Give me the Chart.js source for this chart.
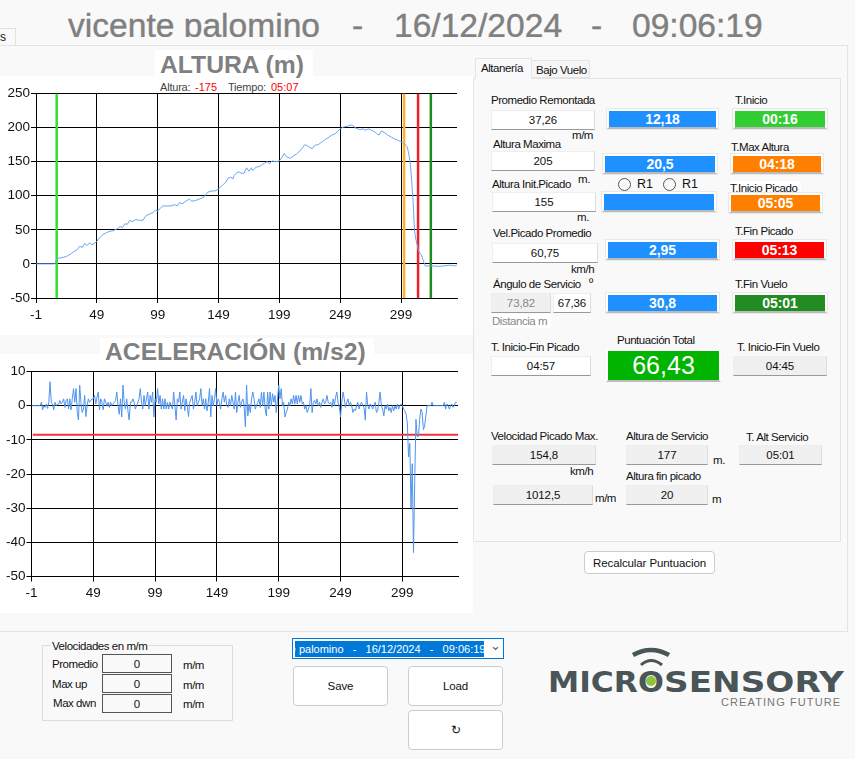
<!DOCTYPE html>
<html>
<head>
<meta charset="utf-8">
<script src="https://cdn.jsdelivr.net/npm/chart.js@4"></script>
<style>
html, body { margin: 0; padding: 0; width: 855px; height: 759px; overflow: hidden; background: #f9f9f9; }
body { font-family: "Liberation Sans", Arial, sans-serif; font-size: 12px; color: #111; position: relative; }
.a { position: absolute; box-sizing: border-box; }
.t { position: absolute; white-space: nowrap; transform: translateY(-50%); line-height: 14px; }
.b { position: absolute; box-sizing: border-box; display: flex; align-items: center; justify-content: center; font-size: 11.5px; letter-spacing: -0.1px; }
.head { font-size: 33.6px; line-height: 36px; color: #808080; -webkit-text-stroke: .4px #808080; top: 25.5px; }
.logo { font-family: "DejaVu Sans"; font-weight: bold; font-size: 29px; line-height: 30px; color: #4a5558; top: 681.5px; transform-origin: 0 50%; }
canvas { position: absolute; }
</style>
</head>
<body>
<!-- app frame -->
<div class="a" style="left:0;top:0;width:855px;height:37px;overflow:hidden">
  <div class="t head" style="left:68px">vicente palomino</div>
  <div class="t head" style="left:352px">-</div>
  <div class="t head" style="left:394px">16/12/2024</div>
  <div class="t head" style="left:591px">-</div>
  <div class="t head" style="left:632px">09:06:19</div>
</div>
<div class="a" style="left:-1px;top:28px;width:17px;height:18px;border:1px solid #e2e2e2;background:#f9f9f9"></div>
<div class="t" style="left:0;top:37px">s</div>
<div class="a" style="left:-1px;top:45px;width:849px;height:587px;border:1px solid #e4e4e4"></div>

<!-- chart backgrounds -->
<div class="a" style="left:155px;top:50px;width:158px;height:26px;background:#fff"></div>
<div class="a" style="left:0;top:76px;width:473px;height:259px;background:#fff"></div>
<div class="a" style="left:100px;top:338px;width:274px;height:16px;background:#fff"></div>
<div class="a" style="left:0;top:354px;width:473px;height:259px;background:#fff"></div>

<div class="t" style="left:160px;top:65px;font-size:24.7px;line-height:26px;font-weight:bold;color:#808080">ALTURA (m)</div>
<div class="t" style="left:105px;top:352px;font-size:24.7px;line-height:26px;font-weight:bold;color:#808080">ACELERACIÓN (m/s2)</div>
<div class="t" style="left:160px;top:87px;font-size:11px;color:#444;letter-spacing:-.2px">Altura:</div>
<div class="t" style="left:195px;top:87px;font-size:11px;color:#f00">-175</div>
<div class="t" style="left:228px;top:87px;font-size:11px;color:#444;letter-spacing:-.2px">Tiempo:</div>
<div class="t" style="left:271px;top:87px;font-size:11px;color:#f00">05:07</div>

<canvas id="alturaChart" width="473" height="257" style="left:0;top:78px"></canvas>
<canvas id="acelChart" width="473" height="257" style="left:0;top:356px"></canvas>

<!-- right panel -->
<div class="a" style="left:473px;top:78px;width:368px;height:464px;border:1px solid #e4e4e4;background:#f9f9f9"></div>
<div class="a" style="left:475px;top:58px;width:57px;height:21px;border:1px solid #e4e4e4;border-bottom:none;background:#f9f9f9"></div>
<div class="a" style="left:531px;top:60px;width:59px;height:18px;border:1px solid #e4e4e4;background:#f6f6f6"></div>
<div id="widgets"></div>

<!-- logo -->
<svg class="a" style="left:630px;top:645px" width="44" height="30" viewBox="0 0 44 30">
  <path d="M3 10 Q21 0 39 10" fill="none" stroke="#4a5558" stroke-width="4.5"/>
  <path d="M11 20 Q21 11 32 20" fill="none" stroke="#4a5558" stroke-width="3"/>
</svg>
<div class="t logo" style="left:548px;transform:translateY(-50%) scaleX(1.08)">MICR</div>
<div class="t logo" style="left:638px;transform:translateY(-50%) scaleX(1.05)">O</div>
<div class="t logo" style="left:664px;transform:translateY(-50%) scaleX(1.18)">SENSORY</div>
<svg class="a" style="left:644px;top:674px" width="14" height="14" viewBox="0 0 14 14"><circle cx="7" cy="7" r="5" fill="#8dc43c"/></svg>
<div class="t" style="left:721px;top:702px;font-size:11px;color:#777;letter-spacing:1.1px">CREATING FUTURE</div>

<script>
const altSec = [-1,14,15,16,20,24,28,30,33,35,37,39,41,43,45,47,49,51,54,57,60,63,66,68,70,72,74,76,78,81,84,87,89,92,95,97,99,101,103,106,110,113,115,117,119,122,125,127,130,133,137,140,143,146,149,152,155,157,159,161,162,164,166,168,170,172,174,176,177,180,183,185,187,189,191,193,196,199,201,203,205,208,211,213,216,220,223,226,228,231,234,237,239,242,245,247,249,252,255,258,260,262,265,268,270,272,274,277,279,281,283,285,288,291,294,297,300,302,304,305,306,307,308,309,310,311,313,314,316,317,319,324,330,334,338,341,343,345];
const altVal = [0,0,1,8,9,11,15,18,21,26,24,30,27,31,28,30,33,38,43,46,48,49,52,55,53,59,58,64,62,65,64,64,70,73,75,79,78,81,85,85,85,87,85,90,88,92,95,92,93,95,98,105,107,107,110,115,120,126,127,125,130,134,135,133,133,141,136,141,137,142,143,146,148,150,147,151,150,151,156,162,157,155,159,161,166,175,172,169,174,175,179,183,185,189,191,195,198,201,202,204,202,199,197,198,196,198,197,194,191,189,195,193,189,186,183,181,178,176,172,165,155,140,115,90,50,38,22,17,12,6,-3,-3,-3.5,-3,-2,-2,-3,-1.5];

// aceleracion (m/s2), one sample per second starting at -1
const acelStart = -1;
const acelVal = [
  0,0,0,0,0,0,0,0,1,-1.2,
  0,-0.5,0.5,-0.8,1,7,1,0.5,-1.2,1,
  0,0.5,0.5,1.5,0.5,1,2,-0.5,1.5,2,
  -1,2,-1.2,2,5,1,5,-2,-4.2,6,
  1,-2,-1,3,-3.2,0,2,1,1.5,2,
  2,3,0.5,2.5,4,-1.2,2,1,-1.2,2,
  1,0,1,-0.5,1,0,0.5,1,1.5,4,
  0,-2.5,2,-3.3,6,1,-1,2,-1.5,-4.2,
  1,1,2,1,-1,0,1,2,5,1,
  -1,3,0,2,4,-1,3,1,4,-3.3,
  2,1,5,0.5,3,-1,2,-1,2,-1,
  1,-1,1,0,-1,4,0,-4.2,2,1,
  4,-1,1,3,-1.5,2,0,-3.2,1,2,
  3,-1,1,4,0,1,2,5,0,2,
  -1,2,-1.5,1,5,-3.3,3,0,2,5,
  0,2,1,-1,2,4,1,3,0,-0.5,
  2,0,3,1,-1,4,-2,1,3,-0.5,
  1,2,0,-6.2,6,-3,0.5,-2,2,4,
  2,-1,0,1,2,-0.5,4,0,4,-1,
  -3,4,-1,4,0,3.5,1,3,-2,2,
  6,2,5,0,1,-3.3,-2,-1,1,0,
  2,0.5,3,0.5,3,0.5,3,1,3,0.5,
  1,-1,0,-2,-1,0,5,-2,1,1.5,
  0.5,2,0,1,-0.5,1,2,0.5,1,3,
  1,0.5,1,-0.5,2,0,2.5,4,1,-0.5,
  -3.3,1,4,2,-0.5,1,2,0,1,0,
  -2,-1,-1.5,0,1,-1,0.5,1,0,-0.5,
  -4.2,4,0,-1,0.5,0,-1,0,1,-2,
  -1.5,1,4,0,-1,-3,0,-1,0.5,-1.5,
  -0.5,-2,0,-1.5,0,-1,0.5,-1,0,0.5,
  0,-1,-1.5,-2.5,-5,-15,-11,-30,-17,-43,
  -22,-4,-9,-9,-4,-1,-2,-7,-6,-3,
  0,0,0,0,1,0,0,0,0,0,
  0,0,0,0,1,-1,0.5,0,-1,0,
  0.5,-0.5,0,1,1
];

const xTicks = [-1, 49, 99, 149, 199, 249, 299];
const alturaTicks = [-50, 0, 50, 100, 150, 200, 250];
const acelTicks = [-50, -40, -30, -20, -10, 0, 10];

// event times and their colours on the altura chart
const eventSec = [16, 301.5, 313, 323.5];
const eventColor = ['#32e032', '#ffb02e', '#f0202a', '#228b22'];
const eventWidth = [2.5, 2.5, 2.5, 2.5];

const acelLimit = -8.5;
const limitFrom = 0;
const limitTo = 344;

function makeOptions(xMax, yMin, yMax, yTicks, leftW, padTop, bottomH) {
    return {
        responsive: false,
        animation: false,
        layout: { padding: { top: padTop, right: 473 - (leftW === 36 ? 457 : 458), left: 0, bottom: 0 } },
        plugins: { legend: { display: false }, tooltip: { enabled: false } },
        elements: { point: { radius: 0 }, line: { tension: 0, borderWidth: 1 } },
        scales: {
            x: {
                type: 'linear', min: -1, max: xMax,
                afterBuildTicks: s => { s.ticks = xTicks.map(v => ({ value: v })); },
                afterFit: s => { s.height = bottomH; },
                grid: { color: '#000', lineWidth: 1, tickLength: 5, tickColor: '#000' },
                border: { color: '#000', width: 1 },
                ticks: { color: '#111', font: { family: 'Liberation Sans', size: 13.5 }, padding: 4, maxRotation: 0, autoSkip: false, callback: v => v },
            },
            y: {
                min: yMin, max: yMax,
                afterBuildTicks: s => { s.ticks = yTicks.map(v => ({ value: v })); },
                afterFit: s => { s.width = leftW; },
                grid: { color: '#000', lineWidth: 1, tickLength: 5, tickColor: '#000' },
                border: { color: '#000', width: 1 },
                ticks: { color: '#111', font: { family: 'Liberation Sans', size: 13.5 }, padding: 1, callback: v => v },
            },
        },
    };
}

const alturaSets = [{
    data: altSec.map((s, i) => ({ x: s, y: altVal[i] })),
    borderColor: '#6aa5f2', borderWidth: 1,
}];
eventSec.forEach((s, i) => {
    alturaSets.push({
        data: [{ x: s, y: -50 }, { x: s, y: 250 }],
        borderColor: eventColor[i], borderWidth: eventWidth[i],
    });
});

new Chart(document.getElementById('alturaChart').getContext('2d'), {
    type: 'line',
    data: { datasets: alturaSets },
    options: makeOptions(345, -50, 250, alturaTicks, 36, 15.5, 37),
});

new Chart(document.getElementById('acelChart').getContext('2d'), {
    type: 'line',
    data: {
        datasets: [
            { data: acelVal.map((v, i) => ({ x: acelStart + i, y: v })), borderColor: '#4f94ee', borderWidth: 1 },
            { data: [{ x: limitFrom, y: acelLimit }, { x: limitTo, y: acelLimit }], borderColor: '#f2333c', borderWidth: 2 },
        ],
    },
    options: makeOptions(344, -50, 10, acelTicks, 31.5, 15.5, 36.5),
});

// the form controls round the charts
const box = document.getElementById('widgets');
function label(text, x, y, extra) {
    const d = document.createElement('div');
    d.className = 't';
    d.textContent = text;
    d.style.cssText = 'font-size:11.5px;letter-spacing:-.45px;left:' + x + 'px;top:' + y + 'px;' + (extra || '');
    box.appendChild(d);
}
function field(text, x1, y1, x2, y2, bg, extra) {
    const d = document.createElement('div');
    d.className = 'b';
    d.textContent = text;
    d.style.cssText = 'left:' + x1 + 'px;top:' + y1 + 'px;width:' + (x2 - x1) + 'px;height:' + (y2 - y1) + 'px;background:' + bg +
        ';border-top:1px solid #eee;border-left:1px solid #eee;border-right:1px solid #ddd;border-bottom:1.5px solid #999;' + (extra || '');
    box.appendChild(d);
}
function score(text, x1, y1, x2, y2, bg) {
    field(text, x1, y1, x2, y2, bg, 'color:#fff;font-weight:bold;font-size:14px;border:2px solid #fff;border-bottom:2px solid #bbb;outline:1px solid #e8e8e8;');
}
function button(text, x1, y1, x2, y2) {
    field(text, x1, y1, x2, y2, '#fff', 'border:1px solid #ccc;border-radius:4px;');
}

label('Altanería', 481, 68);
label('Bajo Vuelo', 536, 70);

label('Promedio Remontada', 491, 100);
field('37,26', 491, 110, 595, 130, '#fff');
label('m/m', 572, 135);
score('12,18', 607, 109, 718, 129, '#1e90ff');
label('T.Inicio', 735, 100);
score('00:16', 733, 109, 827, 129, '#32cd32');

label('Altura Maxima', 493, 144);
field('205', 491, 151, 595, 171, '#fff');
label('m.', 578, 179);
score('20,5', 603, 154, 717, 174, '#1e90ff');
label('T.Max Altura', 731, 147);
score('04:18', 731, 154, 823, 174, '#ff8000');

label('Altura Init.Picado', 492, 184);
field('155', 492, 192, 596, 212, '#fff');
label('m.', 577, 217);
score('', 602, 192, 716, 212, '#1e90ff');
label('T.Inicio Picado', 730, 188, 'background:#fff;padding-right:4px');
score('05:05', 729, 193, 822, 213, '#ff8000');

label('R1', 637, 184, 'font-size:12.5px;letter-spacing:0');
label('R1', 682, 184, 'font-size:12.5px;letter-spacing:0');
[618, 663].forEach(x => {
    const r = document.createElement('div');
    r.className = 'a';
    r.style.cssText = 'left:' + x + 'px;top:178px;width:13px;height:13px;border:1px solid #555;border-radius:50%;background:#f9f9f9';
    box.appendChild(r);
});

label('Vel.Picado Promedio', 493, 233);
field('60,75', 492, 243, 598, 263, '#fff');
label('km/h', 571, 269);
score('2,95', 606, 240, 719, 260, '#1e90ff');
label('T.Fin Picado', 735, 231);
score('05:13', 733, 240, 826, 260, '#ff0000');

label('Ángulo de Servicio', 493, 284);
label('º', 589, 282);
field('73,82', 491, 293, 551, 313, '#f0f0f0', 'color:#888;');
field('67,36', 553, 293, 591, 313, '#fff');
score('30,8', 606, 293, 719, 313, '#1e90ff');
label('T.Fin Vuelo', 735, 284);
score('05:01', 733, 293, 827, 313, '#228b22');
label('Distancia m', 492, 321, 'color:#888;background:#fff;padding-right:4px');

label('T. Inicio-Fin Picado', 491, 347);
field('04:57', 491, 356, 591, 376, '#fff');
label('Puntuación Total', 617, 340);
field('66,43', 606, 349, 721, 382, '#00b400', 'color:#fff;font-size:25px;letter-spacing:0;border:2px solid #fff;border-bottom:2px solid #bbb;');
label('T. Inicio-Fin Vuelo', 737, 347);
field('04:45', 733, 356, 827, 376, '#f0f0f0');

label('Velocidad Picado Max.', 491, 436);
field('154,8', 492, 445, 596, 465, '#f0f0f0');
label('km/h', 570, 471);
field('1012,5', 493, 485, 593, 505, '#f0f0f0');
label('m/m', 595, 498);
label('Altura de Servicio', 626, 436);
field('177', 626, 445, 708, 465, '#f0f0f0');
label('m.', 713, 460);
label('T. Alt Servicio', 746, 437);
field('05:01', 739, 445, 822, 465, '#f0f0f0');
label('Altura fin picado', 626, 476);
field('20', 626, 485, 708, 505, '#f0f0f0');
label('m', 712, 499);
button('Recalcular Puntuacion', 584, 551, 715, 574);

// velocidades group
const grp = document.createElement('div');
grp.className = 'a';
grp.style.cssText = 'left:42px;top:645px;width:191px;height:76px;border:1px solid #ddd';
box.appendChild(grp);
label('Velocidades en m/m', 51, 646, 'background:#f9f9f9;padding:0 1px');
[['Promedio', 52, 664, 654], ['Max up', 52, 684, 674], ['Max dwn', 53, 703, 694]].forEach(r => {
    label(r[0], r[1], r[2]);
    field('0', 102, r[3], 172, r[3] + 19, '#f9f9f9', 'border:1px solid #555;');
    label('m/m', 183, r[2] + 1);
});

// combo box and buttons
const combo = document.createElement('div');
combo.className = 'a';
combo.style.cssText = 'left:292px;top:638px;width:212px;height:21px;border:1px solid #0078d7;background:#fff';
box.appendChild(combo);
const sel = document.createElement('div');
sel.className = 'a';
sel.style.cssText = 'left:295px;top:641px;width:189px;height:16px;background:#0078d7;overflow:hidden;color:#fff;white-space:pre;line-height:16px;font-size:11px;text-indent:-34px';
sel.textContent = 'vicente palomino   -   16/12/2024   -   09:06:19';
box.appendChild(sel);
label('\u2304', 490, 646, 'color:#555;font-size:13px');
button('Save', 293, 666, 388, 706);
button('Load', 408, 666, 503, 706);
button('\u21BB', 408, 710, 503, 750);
</script>
</body>
</html>
